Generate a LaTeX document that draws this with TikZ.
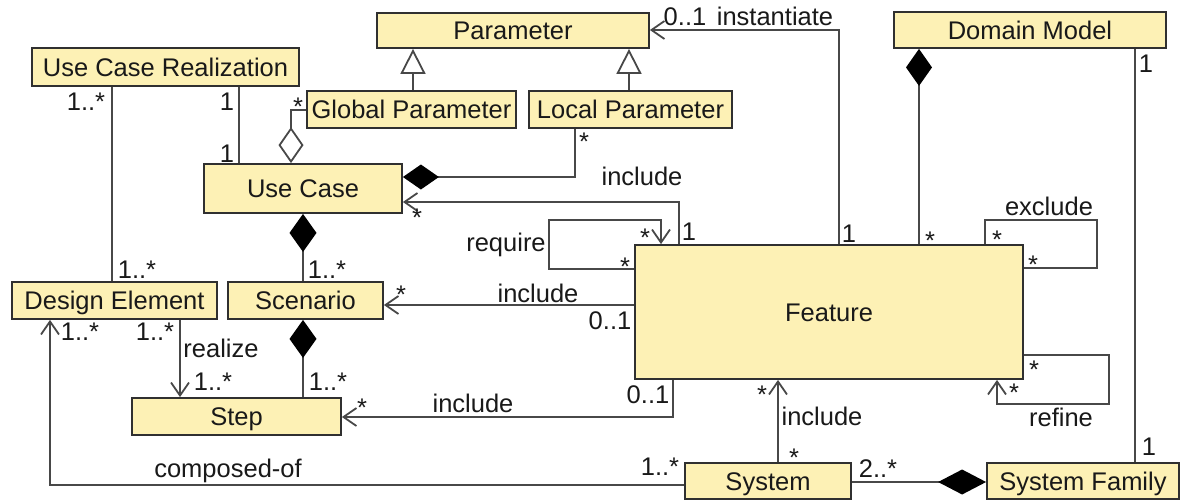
\documentclass[tikz,border=0pt]{standalone}
\usepackage{fontspec}
\setmainfont{Liberation Sans}
\usetikzlibrary{arrows.meta}
\definecolor{boxfill}{RGB}{253,241,181}
\definecolor{edge}{RGB}{72,72,72}
\definecolor{ink}{RGB}{25,25,25}

\begin{document}
\begin{tikzpicture}[x=1pt,y=-1pt,
  font=\fontsize{25.5}{30}\selectfont,
  cls/.style 2 args={draw=ink!90, line width=1.8pt, fill=boxfill, text=ink,
    inner sep=0pt, text height=18.3pt, text depth=0pt,
    minimum width=#1, minimum height=#2},
  link/.style={draw=edge, line width=1.8pt},
  nav/.style={link, -{Straight Barb[length=13pt,width=18pt]}},
  gen/.style={link, -{Triangle[open,length=25pt,width=25pt,fill=white]}},
  comp/.style 2 args={link, {Diamond[length=#1,width=#2,color=black]}-},
  agg/.style={link, {Diamond[open,length=36pt,width=25pt,fill=white]}-},
  lbl/.style={anchor=base, inner sep=0pt, text=ink},
]
\useasboundingbox (0,0) rectangle (1184,499);

% classes
\node[cls={272pt}{35pt}] (param) at (513,30.5) {Parameter};
\node[cls={209pt}{37pt}] (gp) at (411.5,109.5) {Global Parameter};
\node[cls={203pt}{37pt}] (lp) at (630.5,109.5) {Local Parameter};
\node[cls={267pt}{38pt}] (ucr) at (165.5,67) {Use Case Realization};
\node[cls={198pt}{49pt}] (uc) at (303,188.5) {Use Case};
\node[cls={272pt}{36pt}] (dm) at (1030,30) {Domain Model};
\node[cls={388pt}{134pt}] (feat) at (829,312) {Feature};
\node[cls={205pt}{37pt}] (de) at (114.5,300.5) {Design Element};
\node[cls={155pt}{37pt}] (sc) at (305.5,300.5) {Scenario};
\node[cls={209pt}{37pt}] (step) at (236.5,416.5) {Step};
\node[cls={166pt}{36pt}] (sys) at (768,481) {System};
\node[cls={192pt}{36pt}] (sf) at (1083,481) {System Family};

% routing points
\coordinate (kGP) at (413,0);
\coordinate (kLP) at (629,0);
\coordinate (kInst) at (839,30);
\coordinate (kDM) at (919,0);
\coordinate (kDS) at (1135,0);
\coordinate (kEx1) at (985,220);
\coordinate (kEx2) at (1097,268);
\coordinate (kRf1) at (1109,355);
\coordinate (kRf2) at (997,404);
\coordinate (kSF) at (778,0);
\coordinate (kSS) at (0,482);
\coordinate (kCO) at (50,485);
\coordinate (kFS) at (673,417);
\coordinate (kFC) at (0,305);
\coordinate (kRq0) at (549,269);
\coordinate (kRq1) at (661,220);
\coordinate (kFU) at (679,202);
\coordinate (kLU) at (575,177);
\coordinate (kGU) at (291,110);
\coordinate (kRU) at (239,0);
\coordinate (kRD) at (112,0);
\coordinate (kUS) at (303,0);
\coordinate (kDE) at (180,0);

% generalisations
\draw[gen] (gp.north -| kGP) -- (param.south -| kGP);
\draw[gen] (lp.north -| kLP) -- (param.south -| kLP);

% associations
\draw[nav] (feat.north -| kInst) -- (kInst) -- (param.east |- kInst);
\draw[comp={37pt}{26pt}] (dm.south -| kDM) -- (feat.north -| kDM);
\draw[link] (dm.south -| kDS) -- (sf.north -| kDS);
\draw[link] (feat.north -| kEx1) -- (kEx1) -| (kEx2) -- (feat.east |- kEx2);
\draw[nav] (feat.east |- kRf1) -- (kRf1) |- (kRf2) -- (feat.south -| kRf2);
\draw[nav] (sys.north -| kSF) -- (feat.south -| kSF);
\draw[comp={48pt}{25pt}] (sf.west |- kSS) -- (sys.east |- kSS);
\draw[nav] (sys.west |- kCO) -- (kCO) -- (de.south -| kCO);
\draw[nav] (feat.south -| kFS) -- (kFS) -- (step.east |- kFS);
\draw[nav] (feat.west |- kFC) -- (sc.east |- kFC);
\draw[nav] (feat.west |- kRq0) -- (kRq0) |- (kRq1) -- (feat.north -| kRq1);
\draw[nav] (feat.north -| kFU) -- (kFU) -- (uc.east |- kFU);
\draw[comp={36pt}{25pt}] (uc.east |- kLU) -- (kLU) -- (lp.south -| kLU);
\draw[agg] (uc.north -| kGU) -- (kGU) -- (gp.west |- kGU);
\draw[link] (ucr.south -| kRU) -- (uc.north -| kRU);
\draw[link] (ucr.south -| kRD) -- (de.north -| kRD);
\draw[comp={38pt}{27pt}] (uc.south -| kUS) -- (sc.north -| kUS);
\draw[comp={38pt}{27pt}] (sc.south -| kUS) -- (step.north -| kUS);
\draw[nav] (de.south -| kDE) -- (step.north -| kDE);

% role names and multiplicities
\node[lbl] (m01) at (685,25) {0..1};
\node[lbl] (t01) at (775,25) {instantiate};
\node[lbl] (m02) at (849,242) {1};
\node[lbl] (m03) at (930,249) {*};
\node[lbl] (m04) at (1146,72) {1};
\node[lbl] (t02) at (1049,215) {exclude};
\node[lbl] (m05) at (997,248) {*};
\node[lbl] (m06) at (1033,273) {*};
\node[lbl] (m07) at (1034,378) {*};
\node[lbl] (m08) at (1014,401) {*};
\node[lbl] (t03) at (1061,426) {refine};
\node[lbl] (m09) at (1149,455) {1};
\node[lbl] (m10) at (762,403) {*};
\node[lbl] (t04) at (822,425) {include};
\node[lbl] (m11) at (794,466) {*};
\node[lbl] (m12) at (878,477) {2..*};
\node[lbl] (m13) at (660,475) {1..*};
\node[lbl] (t05) at (228,477) {composed-of};
\node[lbl] (m14) at (648,403) {0..1};
\node[lbl] (t06) at (473,412) {include};
\node[lbl] (m15) at (362,416) {*};
\node[lbl] (m16) at (610,329) {0..1};
\node[lbl] (t07) at (538,302) {include};
\node[lbl] (m17) at (401,303) {*};
\node[lbl] (t08) at (506,251) {require};
\node[lbl] (m18) at (625,275) {*};
\node[lbl] (m19) at (645,246) {*};
\node[lbl] (m20) at (689,240) {1};
\node[lbl] (t09) at (642,185) {include};
\node[lbl] (m21) at (417,226) {*};
\node[lbl] (m22) at (584,150) {*};
\node[lbl] (m23) at (298,115) {*};
\node[lbl] (m24) at (227,110) {1};
\node[lbl] (m25) at (227,162) {1};
\node[lbl] (m26) at (86,110) {1..*};
\node[lbl] (m27) at (137,278) {1..*};
\node[lbl] (m28) at (327,278) {1..*};
\node[lbl] (m29) at (80,340) {1..*};
\node[lbl] (m30) at (155,340) {1..*};
\node[lbl] (t10) at (221,357) {realize};
\node[lbl] (m31) at (213,390) {1..*};
\node[lbl] (m32) at (328,390) {1..*};
\end{tikzpicture}
\end{document}
